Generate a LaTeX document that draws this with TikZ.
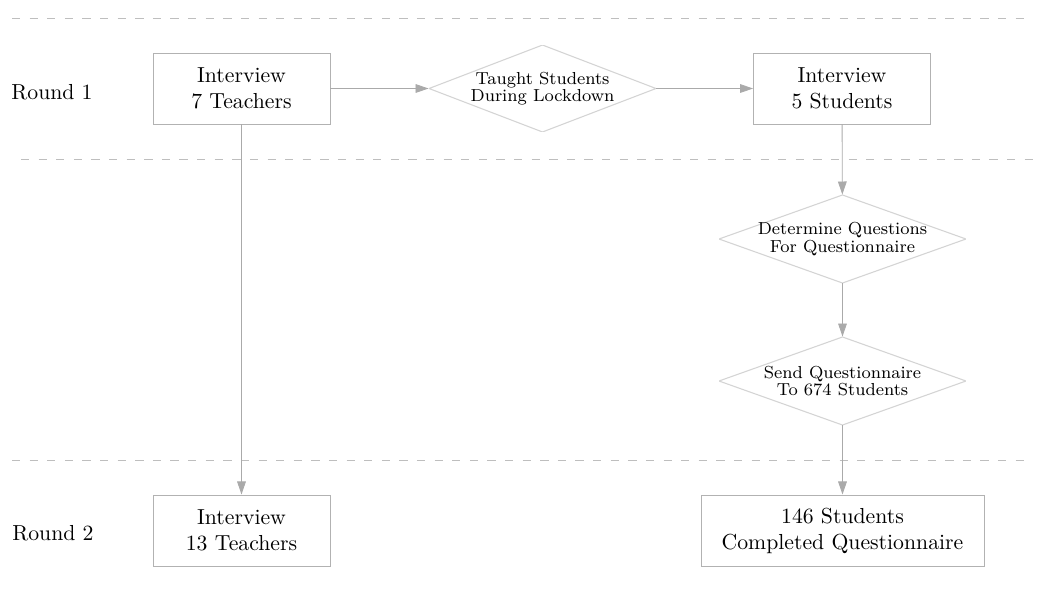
\documentclass[tikz,border=0pt]{standalone}
\usepackage{amssymb}
\usepackage{amsmath}
\usepackage{tikz}
\usetikzlibrary{arrows.meta}
\definecolor{boxgray}{RGB}{178,178,178}
\definecolor{diagray}{RGB}{212,212,212}
\definecolor{arrgray}{RGB}{170,170,170}
\definecolor{dashgray}{RGB}{190,190,190}

\begin{document}
\begin{tikzpicture}[x=0.46pt,y=-0.46pt,
  stepbox/.style={rectangle,draw=boxgray,minimum width=81.4pt,minimum height=32.7pt,align=center},
  choice/.style={rectangle,inner sep=0pt,align=center,font=\fontsize{8}{8}\selectfont,
    path picture={\draw[diagray,line width=0.5pt] (path picture bounding box.west) -- (path picture bounding box.north)
      -- (path picture bounding box.east) -- (path picture bounding box.south) -- cycle;}},
  link/.style={draw=arrgray,-{Triangle[length=6pt,width=4pt]}},
  sep/.style={draw=dashgray,dash pattern=on 3.8pt off 4.3pt}]
\useasboundingbox (0,0) rectangle (1041,597);
%Round Separators
\draw [sep] (12,18) -- (1030,18);
\draw [sep] (21,159) -- (1038,159);
\draw [sep] (12,460) -- (1030,460);
%Round Labels
\node at (52,92) (Round1) {Round 1};
\node at (53,533) (Round2) {Round 2};
%Node Coordinates
\node at (241.5,88.5) [stepbox] (Teach1) {Interview\\7 Teachers};
\node at (542.5,88.5) [choice,minimum width=104.4pt,minimum height=40pt] (Taught) {Taught Students\\During Lockdown};
\node at (842,88.5) [stepbox] (Stud1) {Interview\\5 Students};
\node at (842.5,239) [choice,minimum width=113.6pt,minimum height=40.5pt] (Questions) {Determine Questions\\For Questionnaire};
\node at (842.5,381) [choice,minimum width=113.6pt,minimum height=40.5pt] (Send) {Send Questionnaire\\To 674 Students};
\node at (241.5,530.5) [stepbox] (Teach2) {Interview\\13 Teachers};
\node at (842.5,530.5) [stepbox,minimum width=130.2pt] (Completed) {146 Students\\Completed Questionnaire};
%Connections
\draw [link] (Teach1) -- (Taught);
\draw [link] (Taught) -- (Stud1);
\draw [link] (Stud1) -- (Questions);
\draw [link] (Questions) -- (Send);
\draw [link] (Send) -- (Completed);
\draw [link] (Teach1) -- (Teach2);
\end{tikzpicture}
\end{document}
